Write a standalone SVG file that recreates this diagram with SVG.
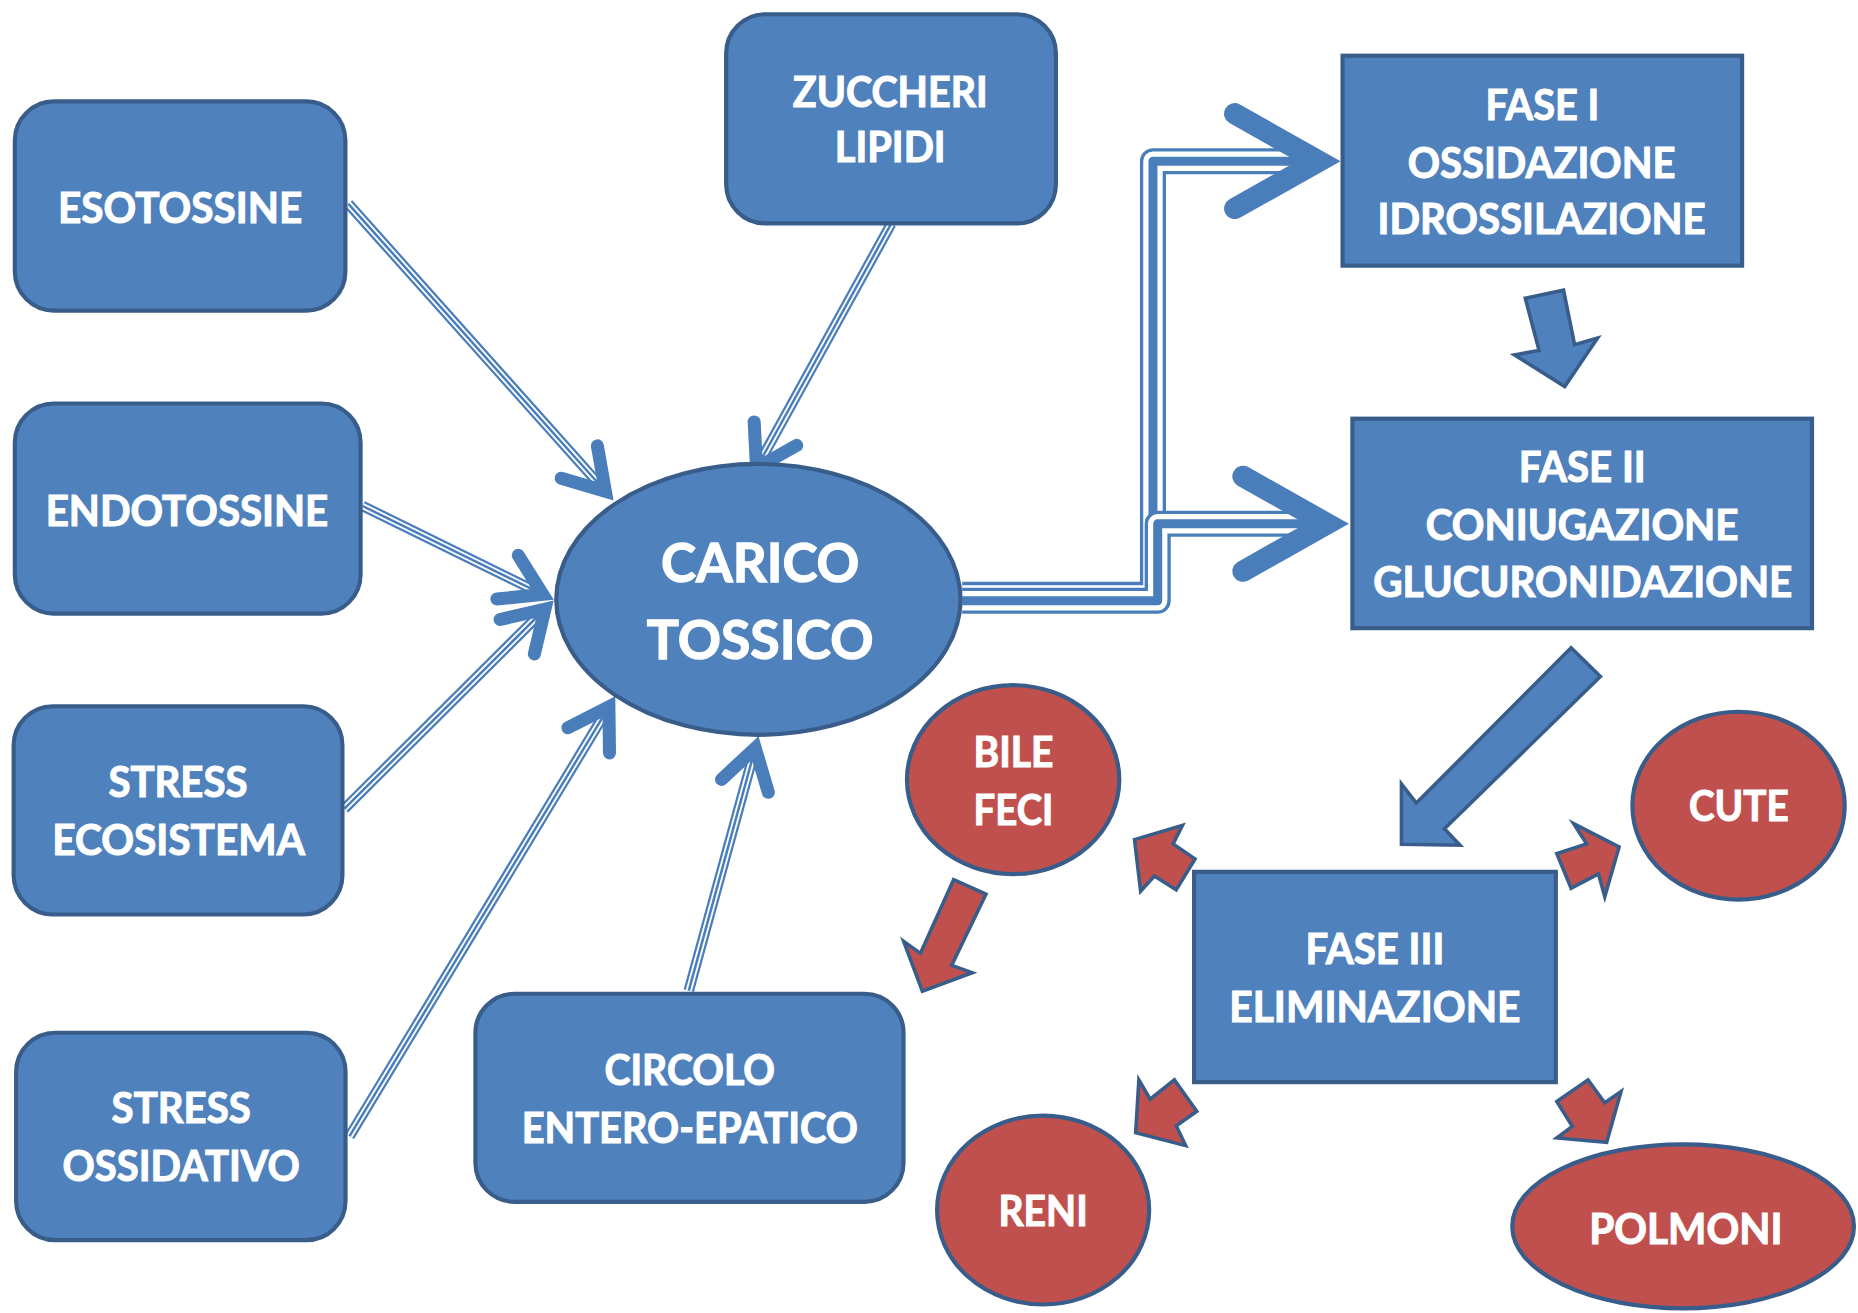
<svg xmlns="http://www.w3.org/2000/svg" xmlns:xlink="http://www.w3.org/1999/xlink" width="1858" height="1313" viewBox="0 0 1858 1313">
<style>
.box{fill:#4F81BD;stroke:#385D8A;stroke-width:3.5}
.red{fill:#C0504D;stroke:#385D8A;stroke-width:3.5}
.blk{fill:#4F81BD;stroke:#385D8A;stroke-width:3;stroke-linejoin:miter}
.rblk{fill:#C0504D;stroke:#385D8A;stroke-width:3;stroke-linejoin:miter}
.t{font-family:Lato,"Liberation Sans",sans-serif;font-weight:700;font-size:36px;fill:#FFFFFF;stroke:#FFFFFF;stroke-width:0.9;text-anchor:middle}
.tb{font-size:45px;stroke-width:1.1}
.c1{fill:none;stroke:#4A7EBB;stroke-width:9}
.c2{fill:none;stroke:#FFFFFF;stroke-width:5.2}
.c3{fill:none;stroke:#4A7EBB;stroke-width:2.1}
.e1{fill:none;stroke:#4A7EBB;stroke-width:22;stroke-linejoin:round}
.e2{fill:none;stroke:#FFFFFF;stroke-width:16.4;stroke-linejoin:round}
.e3{fill:none;stroke:#4A7EBB;stroke-width:7.6;stroke-linejoin:round}
</style>
<defs>
<marker id="chevS" markerUnits="userSpaceOnUse" orient="auto" overflow="visible" refX="-8" refY="0" markerWidth="1" markerHeight="1">
<path d="M -43 -20.5 L -10 0 L -43 20.5" fill="none" stroke="#4A7EBB" stroke-width="11" stroke-linecap="round" stroke-linejoin="miter"/>
</marker>
<marker id="chevL" markerUnits="userSpaceOnUse" orient="auto" overflow="visible" refX="-22" refY="0" markerWidth="1" markerHeight="1">
<path d="M -89 -40 L -18 0 L -89 40" fill="none" stroke="#4A7EBB" stroke-width="18" stroke-linecap="round" stroke-linejoin="miter"/>
</marker>
<path id="p-eso" d="M 294 172 L 512.2 416"/>
<path id="p-endo" d="M 306 427 L 459.8 502.5"/>
<path id="p-eco" d="M 290.7 682.4 L 461.3 512.6"/>
<path id="p-oss" d="M 295 958.8 L 514.9 594.8"/>
<path id="p-circ" d="M 581.3 836 L 637.9 629.4"/>
<path id="p-zuc" d="M 752 189 L 637.5 396.6"/>
<path id="p-f1" d="M 812 502 H 973 V 136 H 1109"/>
<path id="p-f2" d="M 812 507 H 977 V 442 H 1116"/>
</defs>
<g transform="scale(1.18495 1.18502)">
<g id="connectors">
<use xlink:href="#p-eso" class="c1"/><use xlink:href="#p-eso" class="c2"/><use xlink:href="#p-eso" class="c3" marker-end="url(#chevS)"/>
<use xlink:href="#p-endo" class="c1"/><use xlink:href="#p-endo" class="c2"/><use xlink:href="#p-endo" class="c3" marker-end="url(#chevS)"/>
<use xlink:href="#p-eco" class="c1"/><use xlink:href="#p-eco" class="c2"/><use xlink:href="#p-eco" class="c3" marker-end="url(#chevS)"/>
<use xlink:href="#p-oss" class="c1"/><use xlink:href="#p-oss" class="c2"/><use xlink:href="#p-oss" class="c3" marker-end="url(#chevS)"/>
<use xlink:href="#p-circ" class="c1"/><use xlink:href="#p-circ" class="c2"/><use xlink:href="#p-circ" class="c3" marker-end="url(#chevS)"/>
<use xlink:href="#p-zuc" class="c1"/><use xlink:href="#p-zuc" class="c2"/><use xlink:href="#p-zuc" class="c3" marker-end="url(#chevS)"/>
<use xlink:href="#p-f1" class="e1"/><use xlink:href="#p-f1" class="e2"/><use xlink:href="#p-f1" class="e3" marker-end="url(#chevL)"/>
<use xlink:href="#p-f2" class="e1"/><use xlink:href="#p-f2" class="e2"/><use xlink:href="#p-f2" class="e3" marker-end="url(#chevL)"/>
<g id="block-arrows">
<polygon class="blk" points="1287.2,251.6 1319.5,244.9 1328.8,290.8 1348.2,285.2 1320.5,326.2 1278.1,299.5 1298.8,295.7"/>
<polygon class="blk" points="1325.9,546.6 1350.6,570.9 1219,699.4 1232.1,713.3 1182.7,712.5 1182.7,661.5 1195.3,677.7"/>
<polygon class="rblk" points="804.8,742.2 832.1,754.5 803.2,814.6 820.5,820.8 778.4,836.4 762.6,794.4 776.8,804.5"/>
<polygon class="rblk" points="957.4,708.5 997.9,696.5 990,712.1 1008.5,724.8 992.6,750.9 974.2,739.3 962.6,752"/>
<polygon class="rblk" points="1328,695.1 1366.4,714.7 1354.3,756.7 1349,737.5 1325.9,749.5 1313.8,720.4 1339,712.1"/>
<polygon class="rblk" points="961.1,911.3 970.6,927.6 991.1,911.3 1010,937.8 992.7,950.1 1000.6,966.8 958.4,955.9"/>
<polygon class="rblk" points="1340.1,911.3 1354.3,930.6 1368,921.1 1355.9,963.9 1313.8,960.3 1326.9,950.5 1313.8,929.5"/>
</g>
</g>
<g id="esotossine">
<rect class="box" x="12.5" y="85.6" width="279" height="176.5" rx="33"/>
<text class="t" x="152" y="188" textLength="206" lengthAdjust="spacingAndGlyphs">ESOTOSSINE</text>
</g>
<g id="endotossine">
<rect class="box" x="12.5" y="340.5" width="291.8" height="177.3" rx="33"/>
<text class="t" x="157.8" y="443.8" textLength="238.5" lengthAdjust="spacingAndGlyphs">ENDOTOSSINE</text>
</g>
<g id="stress-ecosistema">
<rect class="box" x="11.5" y="596" width="277.5" height="175.7" rx="33"/>
<text class="t" x="150.2" y="672.7" textLength="117.4" lengthAdjust="spacingAndGlyphs">STRESS</text>
<text class="t" x="150.7" y="721.6" textLength="213.2" lengthAdjust="spacingAndGlyphs">ECOSISTEMA</text>
</g>
<g id="stress-ossidativo">
<rect class="box" x="13.6" y="871.5" width="278" height="175" rx="33"/>
<text class="t" x="152.9" y="948" textLength="117.4" lengthAdjust="spacingAndGlyphs">STRESS</text>
<text class="t" x="152.9" y="996.3" textLength="200.3" lengthAdjust="spacingAndGlyphs">OSSIDATIVO</text>
</g>
<g id="zuccheri-lipidi">
<rect class="box" x="612.8" y="12" width="278.3" height="176.5" rx="33"/>
<text class="t" x="751.3" y="90" textLength="164.5" lengthAdjust="spacingAndGlyphs">ZUCCHERI</text>
<text class="t" x="751.3" y="137" textLength="93.5" lengthAdjust="spacingAndGlyphs">LIPIDI</text>
</g>
<g id="carico-tossico">
<ellipse class="box" cx="640" cy="505.8" rx="170.6" ry="114.3"/>
<text class="t tb" x="641.5" y="490.8" textLength="167.5" lengthAdjust="spacingAndGlyphs">CARICO</text>
<text class="t tb" x="641.5" y="556.3" textLength="191.3" lengthAdjust="spacingAndGlyphs">TOSSICO</text>
</g>
<g id="circolo-entero-epatico">
<rect class="box" x="401.2" y="838.6" width="361.3" height="175.6" rx="33"/>
<text class="t" x="582.1" y="916" textLength="143.8" lengthAdjust="spacingAndGlyphs">CIRCOLO</text>
<text class="t" x="582.1" y="964.2" textLength="283.6" lengthAdjust="spacingAndGlyphs">ENTERO-EPATICO</text>
</g>
<g id="fase-1">
<rect class="box" x="1133" y="47" width="337.2" height="177.2"/>
<text class="t" x="1301.6" y="101" textLength="96" lengthAdjust="spacingAndGlyphs">FASE I</text>
<text class="t" x="1301" y="150" textLength="226" lengthAdjust="spacingAndGlyphs">OSSIDAZIONE</text>
<text class="t" x="1301" y="197.8" textLength="277" lengthAdjust="spacingAndGlyphs">IDROSSILAZIONE</text>
</g>
<g id="fase-2">
<rect class="box" x="1141.3" y="353.3" width="387.9" height="176.8"/>
<text class="t" x="1335.3" y="406.9" textLength="107.2" lengthAdjust="spacingAndGlyphs">FASE II</text>
<text class="t" x="1335.2" y="455.9" textLength="264" lengthAdjust="spacingAndGlyphs">CONIUGAZIONE</text>
<text class="t" x="1335.7" y="504.1" textLength="353.7" lengthAdjust="spacingAndGlyphs">GLUCURONIDAZIONE</text>
</g>
<g id="fase-3">
<rect class="box" x="1007.7" y="735.7" width="305.3" height="177.5"/>
<text class="t" x="1160.3" y="813.5" textLength="117.3" lengthAdjust="spacingAndGlyphs">FASE III</text>
<text class="t" x="1160.3" y="862.4" textLength="245.8" lengthAdjust="spacingAndGlyphs">ELIMINAZIONE</text>
</g>
<g id="bile-feci">
<ellipse class="red" cx="855" cy="657.9" rx="89.6" ry="79.7"/>
<text class="t" x="855.3" y="647" textLength="67.4" lengthAdjust="spacingAndGlyphs">BILE</text>
<text class="t" x="855.3" y="695.9" textLength="67.4" lengthAdjust="spacingAndGlyphs">FECI</text>
</g>
<g id="cute">
<ellipse class="red" cx="1467.2" cy="679.9" rx="89.6" ry="79.3"/>
<text class="t" x="1467.4" y="693" textLength="84.2" lengthAdjust="spacingAndGlyphs">CUTE</text>
</g>
<g id="reni">
<ellipse class="red" cx="880.3" cy="1021.1" rx="89.5" ry="79.7"/>
<text class="t" x="880.3" y="1034.5" textLength="75.3" lengthAdjust="spacingAndGlyphs">RENI</text>
</g>
<g id="polmoni">
<ellipse class="red" cx="1420.4" cy="1034.9" rx="144.2" ry="69.2"/>
<text class="t" x="1422.7" y="1050" textLength="163.2" lengthAdjust="spacingAndGlyphs">POLMONI</text>
</g>
</g>
</svg>
